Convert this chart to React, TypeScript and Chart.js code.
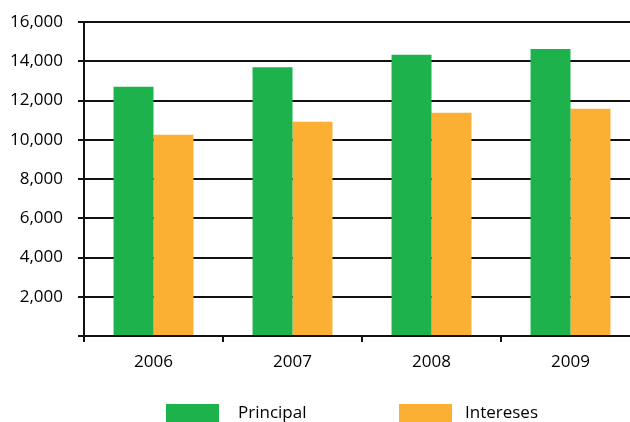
import React, { useEffect, useRef } from "react";
import { Chart, registerables } from "chart.js";

Chart.register(...registerables);

const years = ["2006", "2007", "2008", "2009"];
const principal = [12700, 13700, 14330, 14630];
const intereses = [10250, 10920, 11370, 11580];
const seriesNames = ["Principal", "Intereses"];
const seriesColors = ["#1DB24B", "#FBB034"];
const yTicks = [0, 2000, 4000, 6000, 8000, 10000, 12000, 14000, 16000];

const FONT = "'Open Sans', 'DejaVu Sans', sans-serif";

export default function App() {
  const canvasRef = useRef<HTMLCanvasElement | null>(null);

  useEffect(() => {
    document.body.style.margin = "0";
    const canvas = canvasRef.current;
    if (!canvas) return;
    const chart = new Chart(canvas, {
      type: "bar",
      data: {
        labels: years,
        datasets: [
          {
            label: seriesNames[0],
            data: principal,
            backgroundColor: seriesColors[0],
            borderWidth: 0,
            barPercentage: 1,
            categoryPercentage: 0.575,
          },
          {
            label: seriesNames[1],
            data: intereses,
            backgroundColor: seriesColors[1],
            borderWidth: 0,
            barPercentage: 1,
            categoryPercentage: 0.575,
          },
        ],
      },
      options: {
        responsive: false,
        animation: false,
        devicePixelRatio: 1,
        layout: { padding: { top: 22, right: 2, left: 0, bottom: 0 } },
        plugins: {
          legend: { display: false },
          tooltip: { enabled: false },
        },
        scales: {
          x: {
            offset: true,
            grid: {
              offset: true,
              drawOnChartArea: false,
              drawTicks: true,
              tickLength: 6,
              color: "#111",
              lineWidth: 2,
            },
            border: { display: true, color: "#111", width: 2 },
            ticks: {
              color: "#000",
              font: { family: FONT, size: 17 },
              padding: 10,
            },
            afterFit: (scale: any) => {
              scale.height = 86;
            },
          },
          y: {
            min: 0,
            max: 16000,
            afterBuildTicks: (scale: any) => {
              scale.ticks = yTicks.map((v) => ({ value: v }));
            },
            grid: {
              color: "#111",
              lineWidth: 2,
              tickLength: 6,
            },
            border: { display: true, color: "#111", width: 2 },
            ticks: {
              color: "#000",
              font: { family: FONT, size: 17 },
              padding: 15,
              callback: (v: any) =>
                Number(v) === 0 ? "" : Number(v).toLocaleString("en-US"),
            },
            afterFit: (scale: any) => {
              scale.width = 84;
              scale.paddingTop = 0;
              scale.paddingBottom = 0;
            },
          },
        },
      },
    });
    return () => chart.destroy();
  }, []);

  const legendPos = [
    { box: 166, text: 238 },
    { box: 399, text: 465 },
  ];

  return (
    <div
      style={{
        position: "relative",
        width: 630,
        height: 422,
        overflow: "hidden",
        background: "#fff",
      }}
    >
      <canvas ref={canvasRef} width={642} height={422} style={{ display: "block" }} />
      {seriesNames.map((name, i) => (
        <React.Fragment key={name}>
          <div
            style={{
              position: "absolute",
              left: legendPos[i].box,
              top: 404,
              width: 53,
              height: 20,
              background: seriesColors[i],
            }}
          />
          <div
            style={{
              position: "absolute",
              left: legendPos[i].text,
              top: 400,
              fontFamily: FONT,
              fontSize: 17,
              lineHeight: "24px",
              color: "#000",
              whiteSpace: "nowrap",
            }}
          >
            {name}
          </div>
        </React.Fragment>
      ))}
    </div>
  );
}
